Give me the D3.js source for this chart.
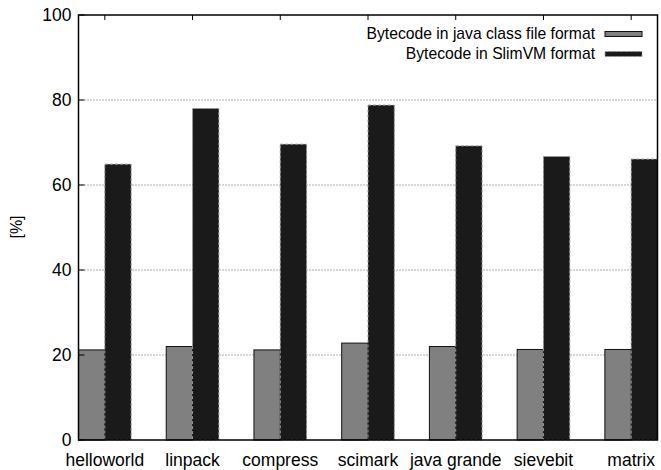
<!DOCTYPE html>
<html>
<head>
<meta charset="utf-8">
<script src="https://cdn.jsdelivr.net/npm/d3@7"></script>
<style>
  body { margin: 0; background: #fff; }
  svg text { font-family: "Liberation Sans", Arial, sans-serif; fill: #000; }
</style>
</head>
<body>
<svg id="chart" width="661" height="470"></svg>
<script>
const categories = ['helloworld', 'linpack', 'compress', 'scimark', 'java grande', 'sievebit', 'matrix'];
const classFile = [21.2, 22.0, 21.2, 22.8, 22.0, 21.3, 21.3];
const slimVM = [64.9, 78.0, 69.6, 78.8, 69.2, 66.7, 66.1];
const seriesNames = ['Bytecode in java class file format', 'Bytecode in SlimVM format'];
const yTicks = [0, 20, 40, 60, 80, 100];

const svg = d3.select('#chart');
const margin = { top: 15, right: 3.5, bottom: 30, left: 78.5 };
const width = 661 - margin.left - margin.right;
const height = 470 - margin.top - margin.bottom;

const frame = svg.append('g')
  .attr('transform', `translate(${margin.left},${margin.top})`);

// gnuplot style histogram: group i centred at i, bars 0.3 wide
const x = d3.scaleLinear().domain([-0.3, categories.length - 0.7]).range([0, width]);
const y = d3.scaleLinear().domain([0, 100]).range([height, 0]);
const barW = x(0.3) - x(0);

// grid
frame.selectAll('.grid')
  .data(yTicks.filter(t => t > 0 && t < 100))
  .enter().append('line')
    .attr('class', 'grid')
    .attr('x1', 0).attr('x2', width)
    .attr('y1', d => y(d)).attr('y2', d => y(d))
    .attr('stroke', '#333')
    .attr('stroke-width', 0.8)
    .attr('stroke-dasharray', '1,2');

// bars
frame.selectAll('.bar-class')
  .data(classFile)
  .enter().append('rect')
    .attr('class', 'bar-class')
    .attr('x', (d, i) => x(i) - barW)
    .attr('y', d => y(d))
    .attr('width', barW)
    .attr('height', d => height - y(d))
    .attr('fill', '#808080')
    .attr('stroke', '#111')
    .attr('stroke-width', 1);

frame.selectAll('.bar-slim')
  .data(slimVM)
  .enter().append('rect')
    .attr('class', 'bar-slim')
    .attr('x', (d, i) => x(i))
    .attr('y', d => y(d))
    .attr('width', barW)
    .attr('height', d => height - y(d))
    .attr('fill', '#1a1a1a')
    .attr('stroke', '#999')
    .attr('stroke-width', 1)
    .attr('stroke-dasharray', '3,2');

// border
frame.append('rect')
  .attr('x', 0).attr('y', 0)
  .attr('width', width).attr('height', height)
  .attr('fill', 'none')
  .attr('stroke', '#000')
  .attr('stroke-width', 1.5);

// y axis ticks and labels
const yAxis = frame.append('g');
yAxis.selectAll('line')
  .data(yTicks)
  .enter().append('line')
    .attr('x1', 0).attr('x2', 6)
    .attr('y1', d => y(d)).attr('y2', d => y(d))
    .attr('stroke', '#000');
yAxis.selectAll('text')
  .data(yTicks)
  .enter().append('text')
    .attr('x', -7)
    .attr('y', d => y(d))
    .attr('dy', '0.36em')
    .attr('text-anchor', 'end')
    .style('font-size', '17.5px')
    .text(d => d);

// top ticks at categories
frame.selectAll('.xtick-top')
  .data(categories)
  .enter().append('line')
    .attr('class', 'xtick-top')
    .attr('x1', (d, i) => x(i)).attr('x2', (d, i) => x(i))
    .attr('y1', 0).attr('y2', 5)
    .attr('stroke', '#000');

// x labels
frame.selectAll('.xlabel')
  .data(categories)
  .enter().append('text')
    .attr('class', 'xlabel')
    .attr('x', (d, i) => x(i))
    .attr('y', height + 26)
    .attr('text-anchor', 'middle')
    .style('font-size', '17.5px')
    .text(d => d);

// y label
svg.append('text')
  .attr('transform', 'translate(21.5,227) rotate(-90)')
  .attr('text-anchor', 'middle')
  .style('font-size', '16px')
  .text('[%]');

// legend
const legend = svg.append('g');
const legendRows = [
  { name: seriesNames[0], fill: '#808080', stroke: '#111', dash: null },
  { name: seriesNames[1], fill: '#1a1a1a', stroke: '#999', dash: '3,2' }
];
legendRows.forEach((r, i) => {
  const ly = 34 + i * 20;
  legend.append('text')
    .attr('x', 595)
    .attr('y', ly)
    .attr('dy', '0.35em')
    .attr('text-anchor', 'end')
    .style('font-size', '15.7px')
    .text(r.name);
  legend.append('rect')
    .attr('x', 605).attr('y', ly - 2.5)
    .attr('width', 37).attr('height', 5)
    .attr('fill', r.fill)
    .attr('stroke', r.stroke)
    .attr('stroke-dasharray', r.dash);
});
</script>
</body>
</html>
